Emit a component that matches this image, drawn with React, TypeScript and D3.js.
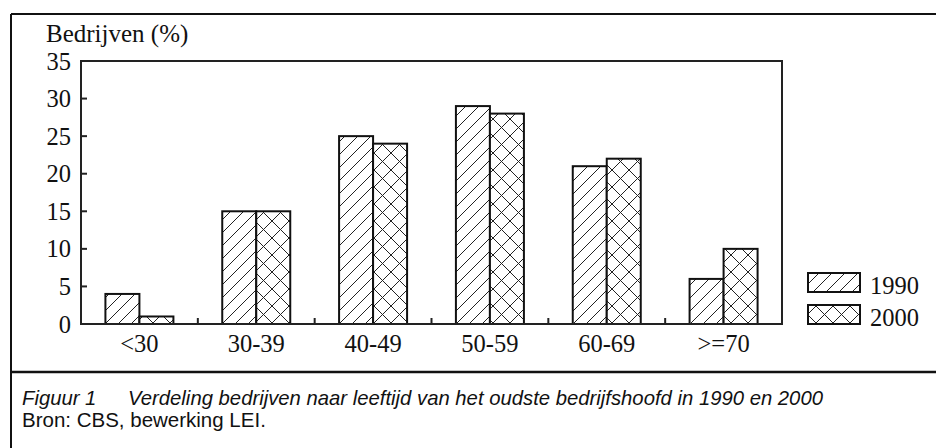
import React from "react";
import * as d3 from "d3";

const categories = ["<30", "30-39", "40-49", "50-59", "60-69", ">=70"];
const series1990 = [4, 15, 25, 29, 21, 6];
const series2000 = [1, 15, 24, 28, 22, 10];
const yTicks = [0, 5, 10, 15, 20, 25, 30, 35];
const seriesNames = ["1990", "2000"];

const W = 936;
const H = 448;
const plot = { left: 81, right: 782, top: 61, bottom: 324 };

export default function App() {
  const x = d3
    .scaleBand<string>()
    .domain(categories)
    .range([plot.left, plot.right])
    .paddingInner(0)
    .paddingOuter(0);
  const inner = d3.scaleBand<string>().domain(seriesNames).range([0, 68]);
  const y = d3.scaleLinear().domain([0, 35]).range([plot.bottom, plot.top]);
  const bw = x.bandwidth();
  const serif = "'Liberation Serif', 'Times New Roman', serif";
  const sans = "'Liberation Sans', Arial, sans-serif";
  const data = [series1990, series2000];
  const fills = ["url(#hatch)", "url(#cross)"];
  const fs = 24.5;

  return (
    <svg
      width={W}
      height={H}
      style={{ position: "fixed", left: 0, top: 0, background: "#fff" }}
    >
      <defs>
        <pattern id="hatch" patternUnits="userSpaceOnUse" width={13} height={13}>
          <rect width={13} height={13} fill="#fff" />
          <path d="M-2,2 L2,-2 M0,13 L13,0 M11,15 L15,11" stroke="#222" strokeWidth={1} />
        </pattern>
        <pattern id="cross" patternUnits="userSpaceOnUse" width={17} height={17}>
          <rect width={17} height={17} fill="#fff" />
          <path
            d="M-2,2 L2,-2 M0,17 L17,0 M15,19 L19,15 M-2,15 L2,19 M0,0 L17,17 M15,-2 L19,2"
            stroke="#222"
            strokeWidth={1}
          />
        </pattern>
      </defs>

      {/* outer frame */}
      <line x1={11} y1={14} x2={W} y2={14} stroke="#111" strokeWidth={2} />
      <line x1={11} y1={14} x2={11} y2={H} stroke="#111" strokeWidth={2} />
      <line x1={11} y1={372} x2={W} y2={372} stroke="#111" strokeWidth={2.5} />

      {/* bars */}
      {categories.map((c, i) => {
        const cx = (x(c) as number) + bw / 2;
        return seriesNames.map((s, j) => {
          const v = data[j][i];
          const bx = cx - 34 + (inner(s) as number);
          return (
            <rect
              key={c + s}
              x={bx}
              y={y(v)}
              width={inner.bandwidth()}
              height={y(0) - y(v)}
              fill={fills[j]}
              stroke="#111"
              strokeWidth={2}
            />
          );
        });
      })}

      {/* plot frame */}
      <rect
        x={plot.left}
        y={plot.top}
        width={plot.right - plot.left}
        height={plot.bottom - plot.top}
        fill="none"
        stroke="#222"
        strokeWidth={2}
      />

      {/* y ticks */}
      {yTicks.map((t) => (
        <g key={t}>
          <line x1={plot.left} x2={plot.left + 6} y1={y(t)} y2={y(t)} stroke="#222" strokeWidth={2} />
          <text
            x={71}
            y={y(t) + 8.5}
            textAnchor="end"
            fontFamily={serif}
            fontSize={fs}
            fill="#111"
          >
            {t}
          </text>
        </g>
      ))}

      {/* x ticks at category boundaries */}
      {categories.slice(1).map((c) => (
        <line
          key={c}
          x1={x(c) as number}
          x2={x(c) as number}
          y1={plot.bottom}
          y2={plot.bottom - 6}
          stroke="#222"
          strokeWidth={2}
        />
      ))}
      {categories.map((c) => (
        <text
          key={c}
          x={(x(c) as number) + bw / 2}
          y={352}
          textAnchor="middle"
          fontFamily={serif}
          fontSize={fs}
          fill="#111"
        >
          {c}
        </text>
      ))}

      <text x={46} y={42} fontFamily={serif} fontSize={25} fill="#111">
        Bedrijven (%)
      </text>

      {/* legend */}
      {seriesNames.map((s, j) => (
        <g key={s}>
          <rect
            x={808}
            y={273 + j * 32}
            width={52}
            height={19}
            fill={fills[j]}
            stroke="#111"
            strokeWidth={2}
          />
          <text x={870} y={294 + j * 32} fontFamily={serif} fontSize={fs} fill="#111">
            {s}
          </text>
        </g>
      ))}

      {/* caption */}
      <text x={22} y={405} fontFamily={sans} fontStyle="italic" fontSize={20.3} fill="#111">
        Figuur 1
      </text>
      <text x={128} y={405} fontFamily={sans} fontStyle="italic" fontSize={20.3} fill="#111">
        Verdeling bedrijven naar leeftijd van het oudste bedrijfshoofd in 1990 en 2000
      </text>
      <text x={22} y={427} fontFamily={sans} fontSize={20.5} fill="#111">
        Bron: CBS, bewerking LEI.
      </text>
    </svg>
  );
}
